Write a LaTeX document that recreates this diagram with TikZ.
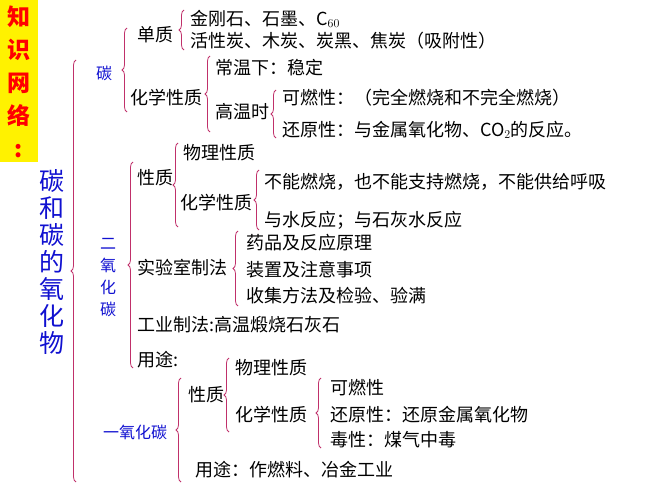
\documentclass[tikz,border=0pt]{standalone}
\usepackage{fontspec}
\setmainfont{Noto Sans CJK SC}
\usetikzlibrary{decorations.pathreplacing}
\definecolor{bracecol}{HTML}{C0306A}
\definecolor{titleblue}{HTML}{1010D0}
\tikzset{
    txt/.style = {anchor=west, inner sep=0pt, font=\fontsize{18}{20}\selectfont},
    blue label/.style = {anchor=center, inner sep=0pt, text=titleblue, font=\fontsize{16}{18}\selectfont},
    brc/.style = {draw=bracecol, thick, decorate, decoration={brace, amplitude=5pt}}
}
\newcommand{\brc}[3]{\draw[brc] (#1,#3) -- (#1,#2);}

\begin{document}
\begin{tikzpicture}[x=1pt, y=-1pt]
        \useasboundingbox (0,0) rectangle (667,500);
        \fill[yellow] (0,0) rectangle (38,162);
        \node[text=red, font=\fontsize{23}{33}\selectfont\bfseries, align=center, inner sep=0pt] (title) at (19,82) {知\\识\\网\\络\\:};

        \node[text=titleblue, font=\fontsize{25}{27}\selectfont, align=center, inner sep=0pt] (topic) at (52,262) {碳\\和\\碳\\的\\氧\\化\\物};
        \brc{76}{60}{482}

        % carbon
        \node[blue label] (C) at (104,73) {碳};
        \brc{127}{28}{112}
        \node[txt] (simple) at (137,35) {单质};
        \brc{184}{10}{50}
        \node[txt] (forms) at (190,19) {金刚石、石墨、C$_{60}$};
        \node[txt] (forms2) at (190,41) {活性炭、木炭、炭黑、焦炭（吸附性）};
        \node[txt] (Cchem) at (130,98) {化学性质};
        \brc{210}{56}{132}
        \node[txt] (normal) at (215,68) {常温下：稳定};
        \node[txt] (hot) at (215,112) {高温时};
        \brc{276}{90}{138}
        \node[txt] (burn) at (282,98) {可燃性：（完全燃烧和不完全燃烧）};
        \node[txt] (reduce) at (282,130) {还原性：与金属氧化物、CO$_2$的反应。};

        % carbon dioxide
        \node[blue label, align=center, font=\fontsize{16}{22}\selectfont] (CO2) at (108,278) {二\\氧\\化\\碳};
        \brc{133}{162}{368}
        \node[txt] (prop) at (137,178) {性质};
        \brc{178}{143}{227}
        \node[txt] (phys) at (183,153) {物理性质};
        \node[txt] (chem) at (180,203) {化学性质};
        \brc{259}{170}{230}
        \node[txt] (noburn) at (264,182) {不能燃烧，也不能支持燃烧，不能供给呼吸};
        \node[txt] (water) at (264,220) {与水反应；与石灰水反应};
        \node[txt] (lab) at (137,268) {实验室制法};
        \brc{238}{231}{306}
        \node[txt] (drug) at (246,243) {药品及反应原理};
        \node[txt] (device) at (246,270) {装置及注意事项};
        \node[txt] (collect) at (246,296) {收集方法及检验、验满};
        \node[txt] (industry) at (137,325) {工业制法:高温煅烧石灰石};
        \node[txt] (use) at (137,360) {用途:};

        % carbon monoxide
        \node[blue label] (CO) at (135,432) {一氧化碳};
        \brc{181}{378}{482}
        \node[txt] (COprop) at (188,395) {性质};
        \brc{229}{358}{432}
        \node[txt] (COphys) at (235,368) {物理性质};
        \node[txt] (COchem) at (235,415) {化学性质};
        \brc{321}{378}{448}
        \node[txt] (COburn) at (330,388) {可燃性};
        \node[txt] (COred) at (330,415) {还原性：还原金属氧化物};
        \node[txt] (COtox) at (330,440) {毒性：煤气中毒};
        \node[txt] (COuse) at (195,470) {用途：作燃料、冶金工业};
\end{tikzpicture}
\end{document}
